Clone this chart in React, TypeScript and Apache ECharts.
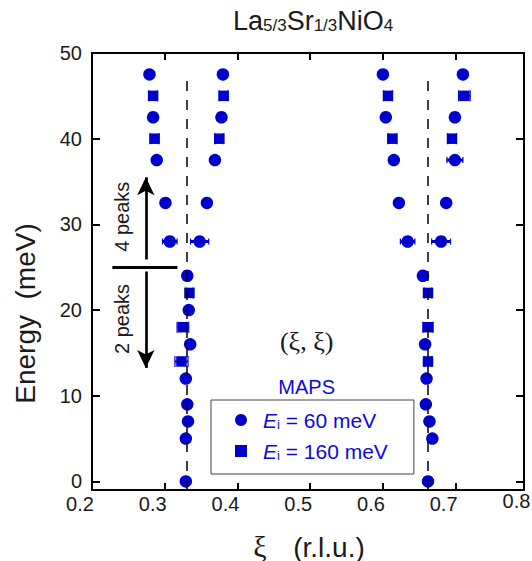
import React, { useEffect, useRef } from "react";
import * as echarts from "echarts";

// ---------- data ----------
// Ei = 60 meV, four-peak region
const e60FourPeakEnergy = [47.5, 42.5, 37.5, 32.5, 28];
const e60LeftOuterXi = [0.279, 0.284, 0.289, 0.301, 0.307];
const e60LeftInnerXi = [0.38, 0.378, 0.369, 0.358, 0.348];
const e60RightInnerXi = [0.6, 0.604, 0.615, 0.622, 0.634];
const e60RightOuterXi = [0.71, 0.699, 0.699, 0.687, 0.68];
// Ei = 60 meV, two-peak region
const e60TwoPeakLeftEnergy = [24, 20, 16, 12, 9, 7, 5, 0];
const e60TwoPeakLeftXi = [0.331, 0.333, 0.335, 0.329, 0.331, 0.332, 0.329, 0.329];
const e60TwoPeakRightEnergy = [24, 16, 12, 9, 7, 5, 0];
const e60TwoPeakRightXi = [0.655, 0.658, 0.66, 0.659, 0.664, 0.668, 0.662];
// Ei = 160 meV, four-peak region
const e160FourPeakEnergy = [45, 40];
const e160LeftOuterXi = [0.284, 0.286];
const e160LeftInnerXi = [0.381, 0.375];
const e160RightInnerXi = [0.607, 0.613];
const e160RightOuterXi = [0.712, 0.695];
// Ei = 160 meV, two-peak region
const e160TwoPeakEnergy = [22, 18, 14];
const e160TwoPeakLeftXi = [0.334, 0.325, 0.323];
const e160TwoPeakRightXi = [0.662, 0.662, 0.662];

// horizontal error bars (half widths, r.l.u.)
const e60ErrEnergy = [28, 28, 28, 28, 37.5];
const e60ErrXi = [0.307, 0.348, 0.634, 0.68, 0.699];
const e60ErrHalf = [0.01, 0.0125, 0.01, 0.013, 0.011];
const e160ErrEnergy = [45, 40, 45, 40, 45, 40, 45, 40, 22, 18, 14, 22, 18, 14];
const e160ErrXi = [0.284, 0.286, 0.381, 0.375, 0.607, 0.613, 0.712, 0.695, 0.334, 0.325, 0.323, 0.662, 0.662, 0.662];
const e160ErrHalf = [0.006, 0.006, 0.006, 0.006, 0.006, 0.006, 0.008, 0.006, 0.005, 0.008, 0.009, 0.005, 0.007, 0.005];

// guide lines
const commensurateXi = [0.33, 0.661];
const guideTopEnergy = 47.5;
const boundaryEnergy = 25;
const boundaryXiRange = [0.228, 0.3175];
const arrowXi = 0.274;
const upArrowEnergy = [25.9, 35.5];
const downArrowEnergy = [24.5, 13.25];

// axes
const xTickValues = [0.3, 0.4, 0.5, 0.6, 0.7];
const xLabelValues = [0.2, 0.3, 0.4, 0.5, 0.6, 0.7];
const xOverflowLabel = "0.8";
const yTickValues = [0, 10, 20, 30, 40, 50];
const legendNames = ["60", "160"];

// ---------- styling ----------
const BLUE = "#0000cc";
const TEXT_BLUE = "#0a0ae0";
const INK = "#1a1a1a";
const SANS = '"Liberation Sans", Arial, sans-serif';
const SERIF = '"Liberation Serif", "DejaVu Serif", serif';

function pairs(xs: number[], ys: number[]) {
  return xs.map((x, i) => [x, ys[i]]);
}

function errorRender(capHalf: number, barWidth: number) {
  return (params: any, api: any) => {
    const x = api.value(0);
    const y = api.value(1);
    const e = api.value(2);
    const a = api.coord([x - e, y]);
    const b = api.coord([x + e, y]);
    return {
      type: "group",
      children: [
        { type: "line", shape: { x1: a[0], y1: a[1], x2: b[0], y2: b[1] }, style: { stroke: BLUE, lineWidth: barWidth } },
        { type: "line", shape: { x1: a[0], y1: a[1] - capHalf, x2: a[0], y2: a[1] + capHalf }, style: { stroke: BLUE, lineWidth: 1.2 } },
        { type: "line", shape: { x1: b[0], y1: b[1] - capHalf, x2: b[0], y2: b[1] + capHalf }, style: { stroke: BLUE, lineWidth: 1.2 } },
      ],
    };
  };
}

const dashed = { type: [10, 9] as any, width: 1.5, color: "#000" };
const solid = { type: "solid" as any, width: 2.7, color: "#000" };

const markLineData: any[] = [
  ...commensurateXi.map((x) => [
    { coord: [x, -1], symbol: "none", lineStyle: dashed },
    { coord: [x, guideTopEnergy], symbol: "none" },
  ]),
  [
    { coord: [boundaryXiRange[0], boundaryEnergy], symbol: "none", lineStyle: { ...solid, width: 3 } },
    { coord: [boundaryXiRange[1], boundaryEnergy], symbol: "none" },
  ],
  [
    { coord: [arrowXi, upArrowEnergy[0]], symbol: "none", lineStyle: solid },
    { coord: [arrowXi, upArrowEnergy[1]], symbol: "arrow", symbolSize: [13, 18] },
  ],
  [
    { coord: [arrowXi, downArrowEnergy[0]], symbol: "none", lineStyle: solid },
    { coord: [arrowXi, downArrowEnergy[1]], symbol: "arrow", symbolSize: [13, 18] },
  ],
];

const xAxisCommon = {
  type: "value",
  min: 0.2,
  max: 0.794,
  axisLine: { show: true, onZero: false, lineStyle: { color: "#000", width: 2 } },
  axisTick: { show: true, inside: true, length: 7, lineStyle: { color: "#000", width: 2 }, customValues: xTickValues },
  splitLine: { show: false },
};
const yAxisCommon = {
  type: "value",
  min: -1,
  max: 50,
  axisLine: { show: true, onZero: false, lineStyle: { color: "#000", width: 2 } },
  axisTick: { show: true, inside: true, length: 8, lineStyle: { color: "#000", width: 2 }, customValues: yTickValues },
  splitLine: { show: false },
};

function txt(x: number, y: number, text: string, size: number, family: string, fill: string, rotation = 0) {
  return {
    type: "text",
    x,
    y,
    rotation,
    style: {
      text,
      fontSize: size,
      fontFamily: family,
      fill,
      align: "center",
      verticalAlign: "middle",
      lineHeight: Math.round(size * 1.4),
    },
  };
}

const option: any = {
  animation: false,
  backgroundColor: "#fff",
  title: {
    text: "{m|La}{s|5/3}{m|Sr}{s|1/3}{m|NiO}{s|4}",
    left: 233,
    top: 2,
    padding: 0,
    textStyle: {
      fontWeight: "normal",
      rich: {
        m: { fontFamily: SANS, fontWeight: "normal", fontSize: 27, lineHeight: 32, color: INK, verticalAlign: "bottom" },
        s: { fontFamily: SANS, fontWeight: "normal", fontSize: 17, lineHeight: 16, color: INK, verticalAlign: "bottom" },
      },
    },
  },
  grid: { left: 92, top: 53, width: 432, height: 437 },
  xAxis: [
    {
      ...xAxisCommon,
      position: "bottom",
      axisLabel: {
        customValues: xLabelValues,
        formatter: (v: number) => v.toFixed(1),
        fontFamily: SANS,
        fontSize: 20,
        color: INK,
        margin: 4,
        padding: [0, 24, 0, 0],
      },
    },
    { ...xAxisCommon, position: "top", axisLabel: { show: false } },
  ],
  yAxis: [
    {
      ...yAxisCommon,
      position: "left",
      axisLabel: {
        customValues: yTickValues,
        fontFamily: SANS,
        fontSize: 20,
        color: INK,
        margin: 10,
      },
    },
    { ...yAxisCommon, position: "right", axisLabel: { show: false } },
  ],
  legend: {
    orient: "vertical",
    left: 211,
    top: 400,
    padding: [10, 26, 12, 24],
    itemGap: 10,
    itemWidth: 12,
    itemHeight: 12,
    borderColor: "#444",
    borderWidth: 1,
    selectedMode: false,
    data: [
      { name: legendNames[0], icon: "circle" },
      { name: legendNames[1], icon: "rect" },
    ],
    formatter: (name: string) => `{e|E}{i|i}{t| = ${name} meV}`,
    textStyle: {
      color: TEXT_BLUE,
      fontFamily: SANS,
      fontSize: 20,
      padding: [0, 0, 0, 11],
      rich: {
        e: { fontFamily: SANS, fontStyle: "italic", fontSize: 21, lineHeight: 22, color: TEXT_BLUE, verticalAlign: "bottom" },
        i: { fontFamily: SANS, fontSize: 13, lineHeight: 14, color: TEXT_BLUE, verticalAlign: "bottom" },
        t: { fontFamily: SANS, fontSize: 21, lineHeight: 22, color: TEXT_BLUE, verticalAlign: "bottom" },
      },
    },
  },
  graphic: [
    txt(516.5, 501, xOverflowLabel, 20, SANS, INK),
    txt(25, 313.5, "Energy  (meV)", 28, SANS, INK, Math.PI / 2),
    txt(260, 546, "ξ", 30, SERIF, INK),
    txt(329, 547, "(r.l.u.)", 28, SANS, INK),
    txt(306.7, 341.7, "(ξ, ξ)", 26, SERIF, INK),
    txt(306.7, 386.7, "MAPS", 20, SANS, TEXT_BLUE),
    txt(121.7, 216.7, "4 peaks", 20, SANS, INK, Math.PI / 2),
    txt(121.7, 319, "2 peaks", 20, SANS, INK, Math.PI / 2),
  ],
  series: [
    {
      type: "custom",
      name: "err60",
      renderItem: errorRender(3, 3),
      data: e60ErrXi.map((x, i) => [x, e60ErrEnergy[i], e60ErrHalf[i]]),
      encode: { x: 0, y: 1 },
      silent: true,
      z: 1,
    },
    {
      type: "custom",
      name: "err160",
      renderItem: errorRender(5.5, 2),
      data: e160ErrXi.map((x, i) => [x, e160ErrEnergy[i], e160ErrHalf[i]]),
      encode: { x: 0, y: 1 },
      silent: true,
      z: 1,
    },
    {
      type: "scatter",
      name: legendNames[0],
      symbol: "circle",
      symbolSize: 12.5,
      itemStyle: { color: BLUE, opacity: 1 },
      z: 3,
      data: [
        ...pairs(e60LeftOuterXi, e60FourPeakEnergy),
        ...pairs(e60LeftInnerXi, e60FourPeakEnergy),
        ...pairs(e60RightInnerXi, e60FourPeakEnergy),
        ...pairs(e60RightOuterXi, e60FourPeakEnergy),
        ...pairs(e60TwoPeakLeftXi, e60TwoPeakLeftEnergy),
        ...pairs(e60TwoPeakRightXi, e60TwoPeakRightEnergy),
      ],
      markLine: {
        silent: true,
        animation: false,
        label: { show: false },
        emphasis: { disabled: true },
        data: markLineData,
      },
    },
    {
      type: "scatter",
      name: legendNames[1],
      symbol: "rect",
      symbolSize: 10.5,
      itemStyle: { color: BLUE, opacity: 1 },
      z: 3,
      data: [
        ...pairs(e160LeftOuterXi, e160FourPeakEnergy),
        ...pairs(e160LeftInnerXi, e160FourPeakEnergy),
        ...pairs(e160RightInnerXi, e160FourPeakEnergy),
        ...pairs(e160RightOuterXi, e160FourPeakEnergy),
        ...pairs(e160TwoPeakLeftXi, e160TwoPeakEnergy),
        ...pairs(e160TwoPeakRightXi, e160TwoPeakEnergy),
      ],
    },
  ],
};

export default function App() {
  const ref = useRef<HTMLDivElement>(null);
  useEffect(() => {
    if (!ref.current) return;
    const chart = echarts.init(ref.current, null, { renderer: "svg" });
    chart.setOption(option);
    return () => chart.dispose();
  }, []);
  return <div ref={ref} style={{ position: "fixed", left: 0, top: 0, width: 532, height: 561 }} />;
}
